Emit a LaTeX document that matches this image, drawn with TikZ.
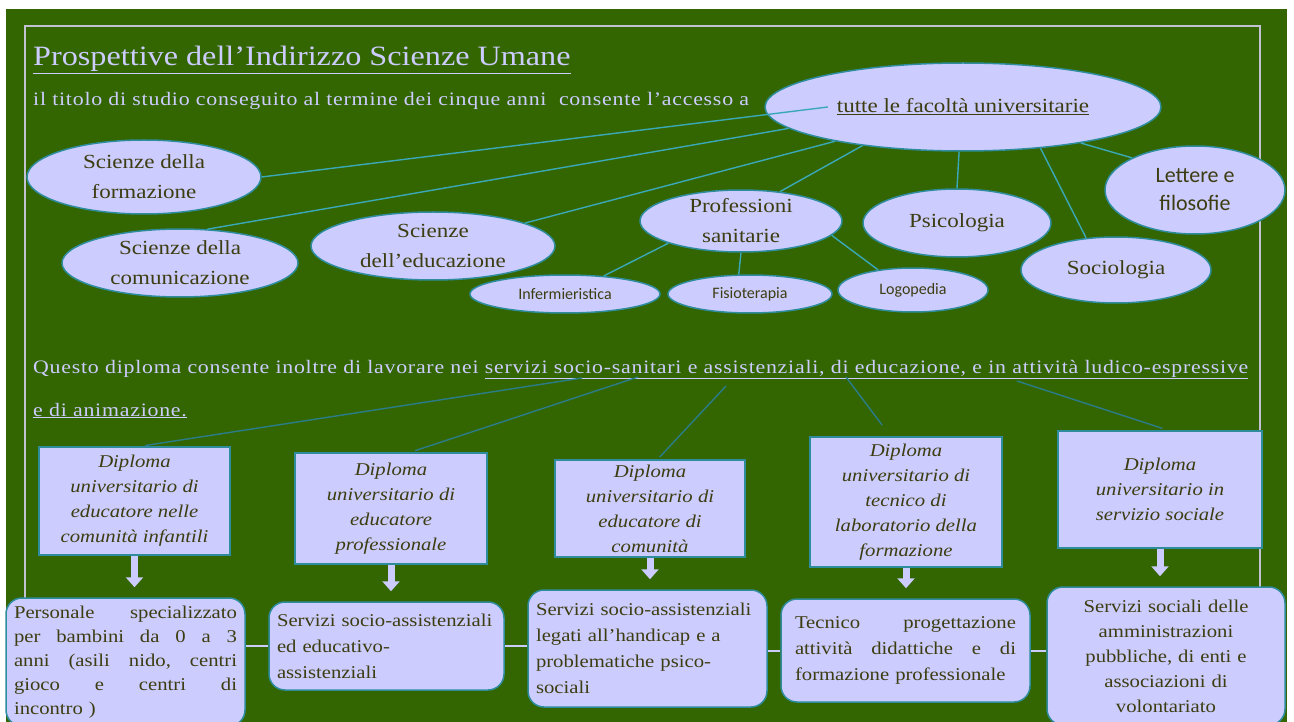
\documentclass[tikz,border=0pt]{standalone}
\usepackage{fontspec}
\setmainfont{Liberation Serif}[FakeStretch=1.15]
\newfontfamily\sansfam{Carlito}
\usepackage{tikz}
\usetikzlibrary{shapes.geometric, arrows.meta, calc}
\definecolor{scigreen}{HTML}{336600}
\definecolor{lilac}{HTML}{CCCCFF}
\definecolor{rimteal}{HTML}{2E8C9C}
\definecolor{linkcyan}{HTML}{3AA8B8}
\definecolor{linkteal}{HTML}{2B7C8A}
\definecolor{inktext}{HTML}{3D3D12}
\definecolor{framegrey}{HTML}{C2C2D2}

\begin{document}
\begin{tikzpicture}[
  x=1pt, y=-1pt,
  faculty/.style={ellipse, draw=rimteal, line width=1.5pt, fill=lilac, text=inktext, align=center, inner xsep=0pt, inner ysep=-2pt, font=\fontsize{20}{30}\selectfont},
  minor/.style={faculty, font=\sansfam\fontsize{16}{20}\selectfont},
  diploma/.style={rectangle, draw=rimteal, line width=1.5pt, fill=lilac, text=inktext, align=center, inner sep=0pt, font=\itshape\fontsize{18}{25}\selectfont},
  outlet/.style={rectangle, draw=rimteal, line width=1.5pt, rounded corners=16pt, fill=lilac, text=inktext, inner xsep=8pt, inner ysep=2pt, font=\fontsize{18}{26}\selectfont},
  heading/.style={anchor=base west, inner sep=0pt, text=lilac},
  spaced/.style={heading, font=\fontsize{19}{24}\selectfont\addfontfeatures{LetterSpace=4}},
  link/.style={draw=linkcyan, line width=1.4pt},
  sublink/.style={draw=linkteal, line width=1.4pt},
  down/.style={draw=lilac, line width=7pt, -{Triangle[width=17pt, length=10pt]}, shorten >=10pt},
  tie/.style={draw=lilac, line width=2pt}
]
  \useasboundingbox (0,0) rectangle (1294,722);
  \fill[scigreen] (6,9) rectangle (1287,740);
  \draw[framegrey, line width=1.6pt] (25,740) -- (25,26) -- (1260,26) -- (1260,740);

  \node[heading, font=\fontsize{28}{34}\selectfont] (title) at (33,66) {\underline{Prospettive dell’Indirizzo Scienze Umane}};
  \node[spaced] (intro) at (33,106) {il titolo di studio conseguito al termine dei cinque anni\ \ consente l’accesso a};

  \node[faculty, minimum width=396pt, minimum height=88pt] (tutte) at (963,107) {\underline{tutte le facoltà universitarie}};
  \node[faculty, minimum width=234pt, minimum height=74pt] (formazione) at (144,177) {Scienze della\\formazione};
  \node[faculty, minimum width=236pt, minimum height=68pt] (comunicazione) at (180,263) {Scienze della\\comunicazione};
  \node[faculty, minimum width=244pt, minimum height=68pt] (educazione) at (433,246) {Scienze\\dell’educazione};
  \node[faculty, minimum width=202pt, minimum height=62pt, inner ysep=-4pt] (sanitarie) at (741,221) {Professioni\\sanitarie};
  \node[faculty, minimum width=188pt, minimum height=68pt] (psicologia) at (957,223) {Psicologia};
  \node[faculty, minimum width=190pt, minimum height=66pt] (sociologia) at (1116,270) {Sociologia};
  \node[faculty, minimum width=180pt, minimum height=88pt, font=\sansfam\fontsize{22}{28}\selectfont] (lettere) at (1195,190) {Lettere e\\filosofie};
  \node[minor, minimum width=190pt, minimum height=38pt] (infermieri) at (565,294) {Infermieristica};
  \node[minor, minimum width=164pt, minimum height=38pt] (fisioterapia) at (750,294) {Fisioterapia};
  \node[minor, minimum width=150pt, minimum height=44pt] (logopedia) at (913,290) {Logopedia};

  \draw[link] (formazione.east) -- ($(tutte.west)!0.16!(tutte.east)$);
  \draw[link] (comunicazione.51) -- (tutte.187);
  \draw[link] (educazione.14) -- (tutte.195);
  \draw[link] (sanitarie.37) -- (tutte.201);
  \draw[link] (psicologia.north) -- (tutte.265);
  \draw[link] (sociologia.133) -- (tutte.332);
  \draw[link] (lettere.153) -- (tutte.343);
  \draw[link] (sanitarie.197) -- (infermieri.25);
  \draw[link] (sanitarie.south) -- (fisioterapia.120);
  \draw[link] (sanitarie.351) -- (logopedia.150);

  \node[spaced] (lavoro) at (33,373) {Questo diploma consente inoltre di lavorare nei \underline{servizi socio-sanitari e assistenziali, di educazione, e in attività ludico-espressive}};
  \node[spaced] (animazione) at (33,416) {\underline{e di animazione.}};
  \coordinate (q1) at (582,378);
  \coordinate (q2) at (638,377);
  \coordinate (q3) at (726,386);
  \coordinate (q4) at (846,377);
  \coordinate (q5) at (1017,381);

  \node[diploma, minimum width=191pt, minimum height=108pt] (educinf) at (134.5,501) {Diploma\\universitario di\\educatore nelle\\comunità infantili};
  \node[diploma, minimum width=192pt, minimum height=111pt] (educprof) at (391,508.5) {Diploma\\universitario di\\educatore\\professionale};
  \node[diploma, minimum width=190pt, minimum height=97pt] (educcom) at (650,508.5) {Diploma\\universitario di\\educatore di\\comunità};
  \node[diploma, minimum width=192pt, minimum height=130pt] (tecnico) at (906,502) {Diploma\\universitario di\\tecnico di\\laboratorio della\\formazione};
  \node[diploma, minimum width=204pt, minimum height=117pt] (sociale) at (1160,489.5) {Diploma\\universitario in\\servizio sociale};

  \draw[sublink, shorten >=5pt] (q1) -- ($(educinf.north west)!0.53!(educinf.north east)$);
  \draw[sublink, shorten >=5pt] (q2) -- ($(educprof.north west)!0.6!(educprof.north east)$);
  \draw[sublink, shorten >=3pt] (q3) -- ($(educcom.north west)!0.54!(educcom.north east)$);
  \draw[sublink, shorten >=14pt] (q4) -- ($(tecnico.north west)!0.42!(tecnico.north east)$);
  \draw[sublink, shorten >=6pt] (q5) -- ($(sociale.north west)!0.54!(sociale.north east)$);

  \node[outlet, text width=223pt, minimum height=128pt, align=left, font=\fontsize{18}{24}\selectfont] (personale) at (125.5,662) {\leavevmode\hbox to 223pt{Personale \hfill specializzato}\\\leavevmode\hbox to 223pt{per \hfill bambini \hfill da \hfill 0 \hfill a \hfill 3}\\\leavevmode\hbox to 223pt{anni \hfill (asili \hfill nido, \hfill centri}\\\leavevmode\hbox to 223pt{gioco \hfill e \hfill centri \hfill di}\\incontro )};
  \node[outlet, text width=219pt, minimum height=88pt, align=left] (socioass) at (386.5,646) {Servizi socio-assistenziali\\ed educativo-\\assistenziali};
  \node[outlet, text width=223pt, minimum height=117pt, align=left] (handicap) at (647.5,648.5) {Servizi socio-assistenziali\\legati all’handicap e a\\problematiche psico-\\sociali};
  \node[outlet, text width=221pt, inner xsep=14pt, minimum height=103pt, align=left] (progetto) at (905.5,650.5) {\leavevmode\hbox to 221pt{Tecnico \hfill progettazione}\\\leavevmode\hbox to 221pt{attività \hfill didattiche \hfill e \hfill di}\\formazione professionale};
  \node[outlet, text width=222pt, minimum height=138pt, align=center, font=\fontsize{18}{25}\selectfont] (pubblici) at (1166,656) {Servizi sociali delle\\amministrazioni\\pubbliche, di enti e\\associazioni di\\volontariato};

  \draw[down] (educinf.south) -- (educinf.south |- personale.north);
  \draw[down] (educprof.south) -- (educprof.south |- socioass.north);
  \draw[down] (educcom.south) -- (educcom.south |- handicap.north);
  \draw[down] (tecnico.south) -- (tecnico.south |- progetto.north);
  \draw[down] (sociale.south) -- (sociale.south |- pubblici.north);

  \draw[tie] (personale.east |- socioass.west) -- (socioass.west);
  \draw[tie] (socioass.east) -- (handicap.west |- socioass.east);
  \draw[tie] (handicap.east |- progetto.west) -- (progetto.west);
  \draw[tie] (progetto.east) -- (pubblici.west |- progetto.east);
\end{tikzpicture}
\end{document}
